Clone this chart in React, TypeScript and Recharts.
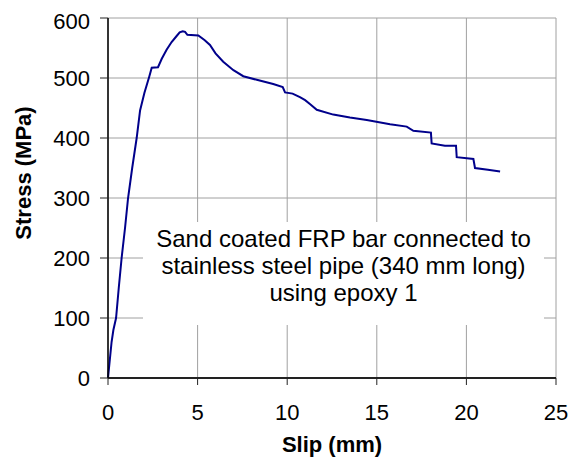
import { CartesianGrid, Label, Line, LineChart, XAxis, YAxis } from 'recharts';

// slip (mm) / stress (MPa)
const SLIP = [
  0, 0.1, 0.2, 0.3, 0.45, 0.6, 0.76, 0.95, 1.12, 1.35, 1.6, 1.79, 2.03, 2.3, 2.44, 2.79, 3.0, 3.27, 3.55,
  3.83, 4.0, 4.17, 4.3, 4.43, 5.04, 5.4, 5.69, 6.0, 6.43, 7.0, 7.55, 8.3, 9.22, 9.75, 9.88, 10.3, 10.71,
  11.0, 11.3, 11.65, 12.57, 13.5, 14.44, 15.74, 16.67, 17.04, 18.02, 18.06, 18.8, 19.42, 19.46, 20.39,
  20.48, 21.2, 21.88,
];
const STRESS = [
  0, 30, 60, 80, 100, 150, 200, 250, 300, 350, 400, 446, 475, 502, 517, 518, 532, 547, 560, 570, 576, 578,
  577, 572, 571, 563, 555, 541, 527, 513, 503, 497, 490, 485, 476, 474, 468, 463, 456, 447, 439, 434, 430,
  423, 419, 412, 409, 391, 387, 387, 368, 365, 350, 347, 344,
];
const X_TICKS = [0, 5, 10, 15, 20, 25];
const Y_TICKS = [0, 100, 200, 300, 400, 500, 600];
const NOTE = ['Sand coated FRP bar connected to', 'stainless steel pipe (340 mm long)', 'using epoxy 1'];

const data = SLIP.map((s, i) => ({ slip: s, stress: STRESS[i] }));

const FONT = '"Liberation Sans", Arial, sans-serif';
const tickStyle = { fontSize: 22, fill: '#000', fontFamily: FONT };
const titleStyle = { fontSize: 22, fontWeight: 'bold', fill: '#000', fontFamily: FONT };

export default function App() {
  return (
    <div style={{ position: 'relative', width: 571, height: 453, fontFamily: FONT }}>
      <LineChart width={571} height={453} data={data} margin={{ top: 10, right: 23, bottom: 0, left: 0 }}>
        <CartesianGrid stroke="#a0a0a0" strokeWidth={1} />
        <XAxis
          dataKey="slip"
          type="number"
          domain={[0, 25]}
          ticks={X_TICKS}
          height={83}
          tickSize={7}
          tickMargin={19}
          tick={tickStyle}
          axisLine={{ stroke: '#222', strokeWidth: 2 }}
          tickLine={{ stroke: '#222' }}
        >
          <Label value="Slip (mm)" position="center" dy={25} style={titleStyle} />
        </XAxis>
        <XAxis xAxisId="top" orientation="top" type="number" domain={[0, 25]} height={0} tick={false} tickLine={false} axisLine={{ stroke: '#777', strokeWidth: 2 }} />
        <YAxis
          type="number"
          domain={[0, 600]}
          ticks={Y_TICKS}
          width={100}
          tickSize={8}
          tickMargin={10}
          tick={tickStyle}
          axisLine={{ stroke: '#000', strokeWidth: 1.5 }}
          tickLine={{ stroke: '#222' }}
        >
          <Label value="Stress (MPa)" position="center" angle={-90} dx={-35} dy={-25} style={titleStyle} />
        </YAxis>
        <YAxis yAxisId="right" orientation="right" type="number" domain={[0, 600]} width={0} tick={false} tickLine={false} axisLine={{ stroke: '#000', strokeWidth: 1.5 }} />
        <Line dataKey="stress" stroke="#00008b" strokeWidth={2} dot={false} isAnimationActive={false} type="linear" />
      </LineChart>
      <div
        style={{
          position: 'absolute',
          left: 135,
          top: 214,
          width: 401,
          height: 103,
          background: '#fff',
          textAlign: 'center',
          fontSize: 24,
          lineHeight: '27px',
          paddingTop: 3,
          boxSizing: 'border-box',
          color: '#000',
          whiteSpace: 'nowrap',
        }}
      >
        {NOTE.map((t) => (
          <div key={t}>{t}</div>
        ))}
      </div>
    </div>
  );
}
